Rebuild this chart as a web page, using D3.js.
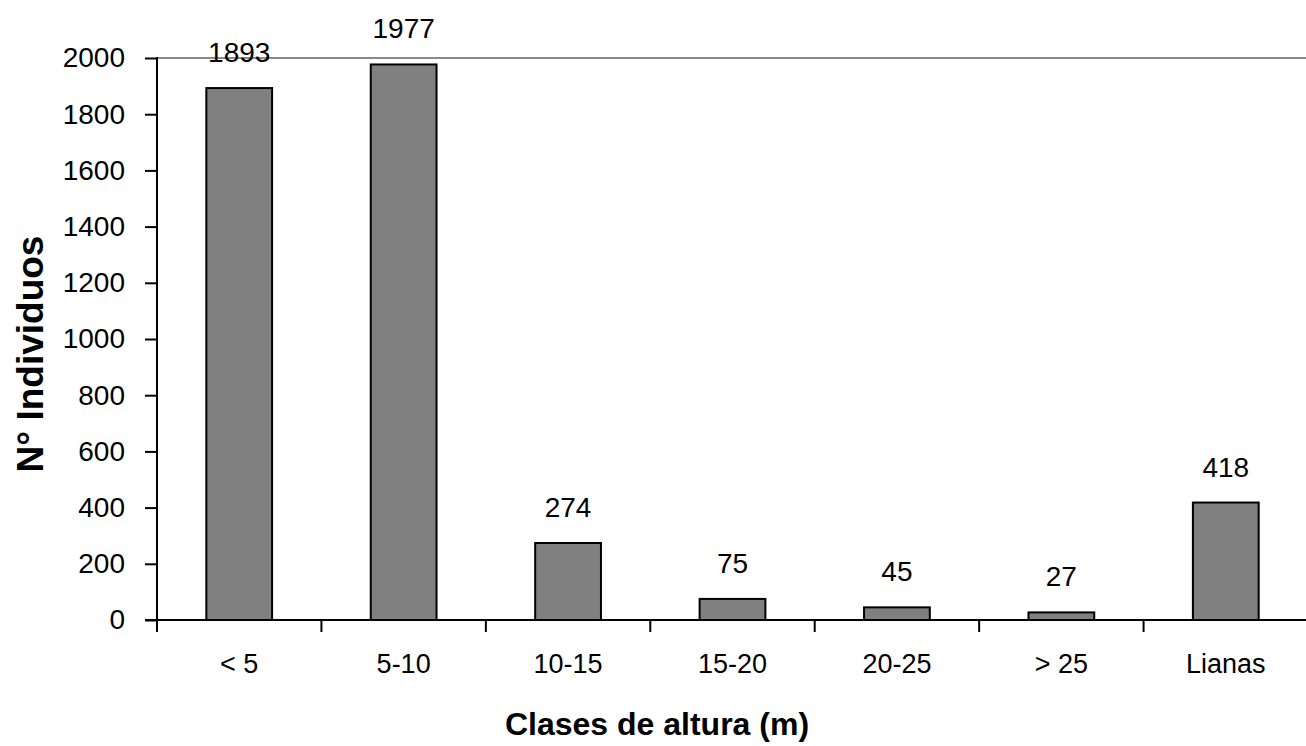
<!DOCTYPE html>
<html>
<head>
<meta charset="utf-8">
<script src="https://cdn.jsdelivr.net/npm/d3@7"></script>
<style>
  html, body { margin: 0; padding: 0; background: #fff; }
  svg { display: block; font-family: "Liberation Sans", Arial, sans-serif; }
</style>
</head>
<body>
<div id="chart"></div>
<script>
const categories = ["< 5", "5-10", "10-15", "15-20", "20-25", "> 25", "Lianas"]
const values = [1893, 1977, 274, 75, 45, 27, 418]
const yTicks = [0, 200, 400, 600, 800, 1000, 1200, 1400, 1600, 1800, 2000]

drawChart("#chart")

function drawChart(id){
    const canvas = createCanvas()
    const svg = d3.select(id).append("svg")
      .attr("width", canvas.width).attr("height", canvas.height)
    const sc = addScales(canvas)

    addGridTop(svg, sc, canvas)
    addBars(svg, sc)
    addAxes(svg, sc, canvas)
    addValueLabels(svg, sc)
    addTitles(svg, canvas)
}

function createCanvas(){
    return {
        width: 1306, height: 746,
        margin: {top: 58, right: -2, bottom: 126, left: 157}
    }
}

function addScales(canvas){
    const xScale = d3.scaleBand().domain(categories)
      .range([canvas.margin.left, canvas.width - canvas.margin.right])
      .paddingInner(0.6).paddingOuter(0.3)

    const xBand = d3.scaleBand().domain(categories)
      .range([canvas.margin.left, canvas.width - canvas.margin.right])

    const yScale = d3.scaleLinear().domain([0, 2000])
      .range([canvas.height - canvas.margin.bottom, canvas.margin.top])

    return {xScale, xBand, yScale}
}

function addGridTop(svg, sc, canvas){
    svg.append("line")
      .attr("x1", canvas.margin.left).attr("x2", canvas.width)
      .attr("y1", sc.yScale(2000)).attr("y2", sc.yScale(2000))
      .attr("stroke", "#8a8a8a").attr("stroke-width", 2)
}

function addBars(svg, sc){
    svg.selectAll("rect.bar").data(values).enter()
      .append("rect").attr("class", "bar")
      .attr("x", (d, i) => sc.xScale(categories[i]))
      .attr("width", sc.xScale.bandwidth())
      .attr("y", d => sc.yScale(d))
      .attr("height", d => sc.yScale(0) - sc.yScale(d))
      .attr("fill", "#808080").attr("stroke", "#000").attr("stroke-width", 2)
}

function addAxes(svg, sc, canvas){
    const y0 = sc.yScale(0)
    const left = canvas.margin.left

    // y axis
    const yAxis = svg.append("g").attr("transform", `translate(${left},0)`)
      .call(d3.axisLeft(sc.yScale).tickValues(yTicks).tickSize(12).tickPadding(20).tickFormat(d3.format("d")))
    yAxis.select(".domain").remove()
    yAxis.selectAll(".tick line").attr("stroke", "#000").attr("stroke-width", 2)
    yAxis.selectAll(".tick text").attr("font-size", "28px").attr("fill", "#000")
      .attr("font-family", "Liberation Sans, Arial, sans-serif")

    svg.append("line").attr("x1", left).attr("x2", left)
      .attr("y1", sc.yScale(2000) - 1).attr("y2", y0 + 12)
      .attr("stroke", "#000").attr("stroke-width", 2)

    // x axis
    svg.append("line").attr("x1", left - 12).attr("x2", canvas.width)
      .attr("y1", y0).attr("y2", y0)
      .attr("stroke", "#000").attr("stroke-width", 2)

    const bounds = categories.map(c => sc.xBand(c)).concat([sc.xBand(categories[categories.length - 1]) + sc.xBand.bandwidth()])
    svg.selectAll("line.xtick").data(bounds.slice(1, categories.length)).enter()
      .append("line").attr("class", "xtick")
      .attr("x1", d => d).attr("x2", d => d)
      .attr("y1", y0).attr("y2", y0 + 12)
      .attr("stroke", "#000").attr("stroke-width", 2)

    svg.selectAll("text.xlab").data(categories).enter()
      .append("text").attr("class", "xlab")
      .attr("x", d => sc.xBand(d) + sc.xBand.bandwidth() / 2)
      .attr("y", 673)
      .attr("text-anchor", "middle").attr("font-size", "27px")
      .text(d => d)
}

function addValueLabels(svg, sc){
    svg.selectAll("text.val").data(values).enter()
      .append("text").attr("class", "val")
      .attr("x", (d, i) => sc.xScale(categories[i]) + sc.xScale.bandwidth() / 2)
      .attr("y", d => sc.yScale(d) - 26)
      .attr("text-anchor", "middle").attr("font-size", "28px")
      .text(d => d)
}

function addTitles(svg, canvas){
    svg.append("text")
      .attr("x", 657).attr("y", 735)
      .attr("text-anchor", "middle").attr("font-size", "32px").attr("font-weight", "bold")
      .text("Clases de altura (m)")

    svg.append("text")
      .attr("transform", "translate(43,354) rotate(-90)")
      .attr("text-anchor", "middle").attr("font-size", "37px").attr("font-weight", "bold")
      .text("N° Individuos")
}
</script>
</body>
</html>
